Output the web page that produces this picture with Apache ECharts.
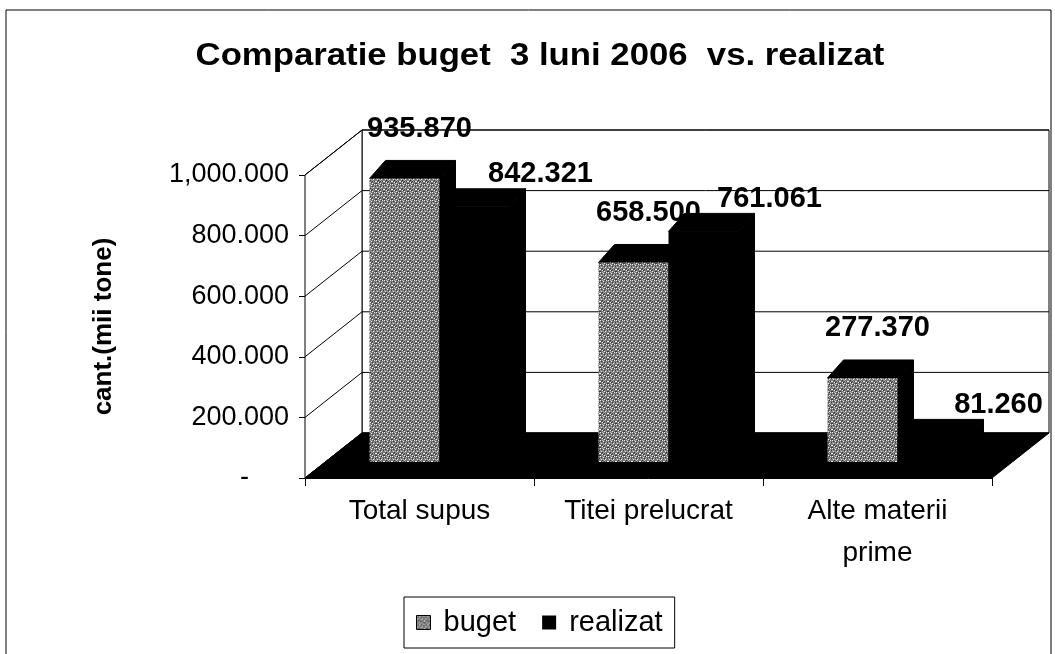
<!DOCTYPE html>
<html>
<head>
<meta charset="utf-8">
<script src="https://cdn.jsdelivr.net/npm/echarts@6/dist/echarts.min.js"></script>
</head>
<body style="margin:0;background:#fff">
<div id="container1" style="width:1055px;height:654px"></div>
<script>
// data
var categories = ['Total supus', 'Titei prelucrat', 'Alte materii\nprime'];
var buget = [935.870, 658.500, 277.370];
var realizat = [842.321, 761.061, 81.260];
var yTicks = [0, 200, 400, 600, 800, 1000];

var FONT = '"Liberation Sans", Arial, sans-serif';
// 3D look (pixels)
var DEPTH = [57, -45];    // front plane -> back wall
var BAR_OFF = [20, -16];  // bar front face inside the depth
var BAR_D = [16, -18];    // depth of one bar
var BAR_W = 70;

// grey speckled fill for "buget"
function makeTexture() {
    var c = document.createElement('canvas');
    c.width = 8; c.height = 8;
    var ctx = c.getContext('2d');
    ctx.fillStyle = '#7a7a7a';
    ctx.fillRect(0, 0, 8, 8);
    var light = [[0,0],[3,1],[6,0],[1,3],[5,3],[7,5],[2,6],[4,7],[0,5]];
    var dark = [[1,1],[4,2],[7,2],[2,4],[6,5],[0,7],[3,6],[5,0],[7,7],[1,5],[4,5]];
    ctx.fillStyle = '#eeeeee';
    light.forEach(function (d) { ctx.fillRect(d[0], d[1], 1, 1); });
    ctx.fillStyle = '#3a3a3a';
    dark.forEach(function (d) { ctx.fillRect(d[0], d[1], 1, 1); });
    ctx.fillStyle = '#aaaaaa';
    [[2,0],[5,5],[0,2],[4,4],[6,2],[3,3]].forEach(function (d) { ctx.fillRect(d[0], d[1], 1, 1); });
    return c;
}
var texture = { image: makeTexture(), repeat: 'repeat' };

function renderWalls(params, api) {
    var r = params.coordSys;
    var x0 = r.x, x1 = r.x + r.width, yb = r.y + r.height, yt = r.y;
    var dx = DEPTH[0], dy = DEPTH[1];
    var ch = [];
    ch.push({ type: 'polygon', shape: { points: [[x0+dx, yt+dy], [x1+dx, yt+dy], [x1+dx, yb+dy], [x0+dx, yb+dy]] },
        style: { fill: '#fff', stroke: '#000', lineWidth: 1 } });
    ch.push({ type: 'polygon', shape: { points: [[x0, yt], [x0+dx, yt+dy], [x0+dx, yb+dy], [x0, yb]] },
        style: { fill: '#fff', stroke: '#000', lineWidth: 1 } });
    yTicks.forEach(function (v) {
        var y = api.coord([0, v])[1];
        ch.push({ type: 'line', shape: { x1: x0, y1: y, x2: x0+dx, y2: y+dy }, style: { stroke: '#000', lineWidth: 1 } });
        ch.push({ type: 'line', shape: { x1: x0+dx, y1: y+dy, x2: x1+dx, y2: y+dy }, style: { stroke: '#000', lineWidth: 1 } });
    });
    // floor
    ch.push({ type: 'polygon', shape: { points: [[x0, yb], [x1, yb], [x1+dx, yb+dy], [x0+dx, yb+dy]] },
        style: { fill: '#000', stroke: '#000' } });
    return { type: 'group', children: ch };
}

function barRenderer(side, fill, labelDx, labelDy) {
    return function (params, api) {
        var cat = api.value(0), val = api.value(1);
        var top = api.coord([cat, val]);
        var base = api.coord([cat, 0]);
        var cx = top[0] + BAR_OFF[0];
        var xl = side === 0 ? cx - BAR_W : cx;
        var xr = xl + BAR_W;
        var yt = top[1] + BAR_OFF[1], yb = base[1] + BAR_OFF[1];
        var dx = BAR_D[0], dy = BAR_D[1];
        return { type: 'group', children: [
            { type: 'polygon', shape: { points: [[xr, yt], [xr+dx, yt+dy], [xr+dx, yb+dy], [xr, yb]] }, style: { fill: '#000', stroke: '#000' } },
            { type: 'polygon', shape: { points: [[xl, yt], [xr, yt], [xr+dx, yt+dy], [xl+dx, yt+dy]] }, style: { fill: '#000', stroke: '#000' } },
            { type: 'rect', shape: { x: xl, y: yt, width: BAR_W, height: yb - yt }, style: { fill: fill } },
            { type: 'text', x: (xl + xr) / 2 + labelDx, y: yt + dy + labelDy,
              style: { text: val.toFixed(3), font: 'bold 29px ' + FONT, fill: '#000', align: 'center', verticalAlign: 'bottom' } }
        ] };
    };
}

function pairs(arr) { return arr.map(function (v, i) { return [i, v]; }); }

var dom = document.getElementById('container1');
var myChart = echarts.init(dom);
var option = {
    animation: false,
    graphic: [
        { type: 'rect', shape: { x: 6, y: 10, width: 1045, height: 700 }, style: { fill: 'none', stroke: '#000', lineWidth: 1 }, z: -10 },
        { type: 'text', x: 540, y: 56, scaleX: 1.12,
          style: { text: 'Comparatie buget  3 luni 2006  vs. realizat', font: 'bold 31px ' + FONT, fill: '#000', align: 'center', verticalAlign: 'middle' } }
    ],
    legend: {
        left: 404, top: 597,
        padding: [11, 12, 11, 12],
        borderColor: '#000', borderWidth: 1,
        itemWidth: 14, itemHeight: 14, itemGap: 26,
        formatter: ' {name}',
        textStyle: { fontSize: 29, fontFamily: FONT, color: '#000' },
        data: [
            { name: 'buget', icon: 'rect', itemStyle: { color: texture, borderColor: '#000', borderWidth: 1 } },
            { name: 'realizat', icon: 'rect', itemStyle: { color: '#000' } }
        ]
    },
    grid: { left: 305, right: 63, top: 175, bottom: 176 },
    xAxis: {
        type: 'category', data: categories,
        axisLine: { lineStyle: { color: '#000', width: 1 } },
        axisTick: { show: true, length: 8, lineStyle: { color: '#000' } },
        axisLabel: { fontSize: 28, fontFamily: FONT, color: '#000', margin: 12, lineHeight: 42 }
    },
    yAxis: {
        type: 'value', min: 0, max: 1000, interval: 200,
        name: 'cant.(mii tone)', nameLocation: 'middle', nameGap: 188, nameRotate: 90,
        nameTextStyle: { fontSize: 26, fontWeight: 'bold', fontFamily: FONT, color: '#000' },
        axisLine: { show: true, lineStyle: { color: '#000', width: 1 } },
        axisTick: { show: true, length: 6, lineStyle: { color: '#000' } },
        splitLine: { show: false },
        axisLabel: {
            fontSize: 27, fontFamily: FONT, color: '#000', margin: 16,
            formatter: function (v) {
                if (v === 0) return '{d|-}';
                return v.toLocaleString('en-US', { minimumFractionDigits: 3, maximumFractionDigits: 3 });
            },
            rich: { d: { fontSize: 27, fontFamily: FONT, color: '#000', padding: [0, 40, 0, 0] } }
        }
    },
    series: [
        { name: 'walls', type: 'custom', renderItem: renderWalls, data: [[0, 0]], silent: true, z: 1 },
        { name: 'buget', type: 'custom', renderItem: barRenderer(0, texture, 15, -17), data: pairs(buget),
          itemStyle: { color: texture }, z: 2 },
        { name: 'realizat', type: 'custom', renderItem: barRenderer(1, '#000', 66, 0), data: pairs(realizat),
          itemStyle: { color: '#000' }, z: 3 }
    ]
};
myChart.setOption(option, true);
</script>
</body>
</html>
